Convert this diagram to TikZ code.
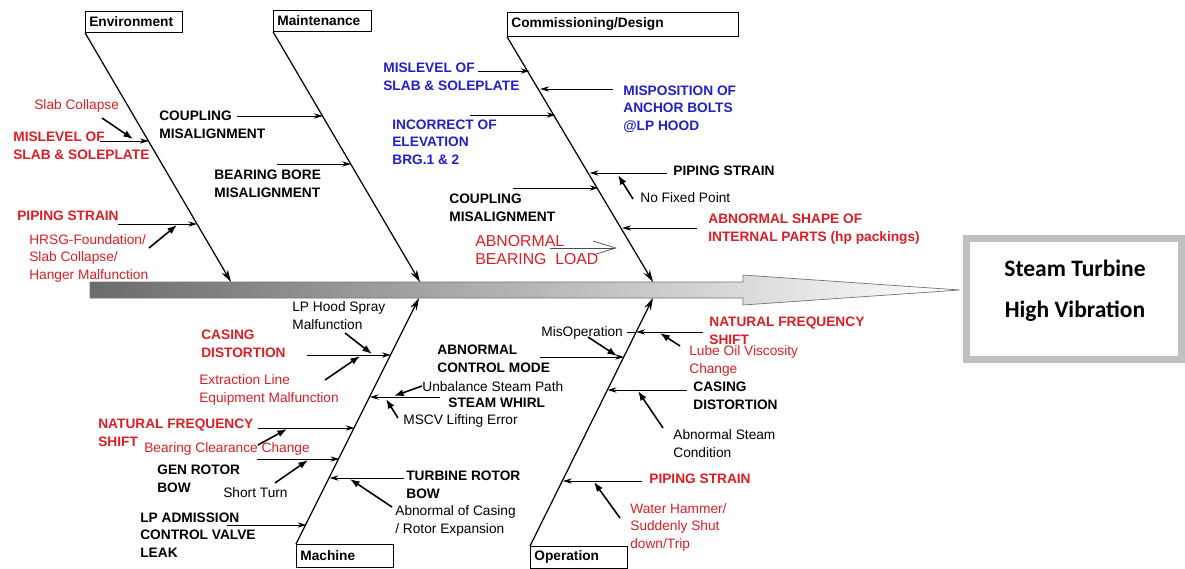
\documentclass[tikz,border=0pt]{standalone}
\usepackage{fontspec}
\setmainfont{Liberation Sans}
\newfontfamily\calibfont{Carlito}
\usetikzlibrary{arrows.meta, positioning}
\usepackage{xcolor}

\definecolor{fbred}{RGB}{220,30,36}
\definecolor{fbblue}{RGB}{32,32,200}
\definecolor{fbgray}{RGB}{192,192,192}
\newcommand{\lblfont}{\fontsize{7.8}{9.7}\selectfont}

\begin{document}
\begin{tikzpicture}[
        x=0.02cm, y=-0.02cm,
        hdr/.style={
          rectangle,
          draw,
          fill=white,
          anchor=north west,
          inner xsep=0.08cm,
          inner ysep=0pt,
          align=left,
          font=\lblfont\bfseries
        },
        cause/.style={
          anchor=base west,
          inner sep=0pt,
          align=left,
          font=\lblfont\bfseries
        },
        subcause/.style={
          anchor=base west,
          inner sep=0pt,
          align=left,
          font=\lblfont
        },
        bone/.style={
          -{Stealth[length=7pt,width=4pt]},
          line width=0.7pt
        },
        arrow/.style={
          -{Stealth[length=5pt,width=3pt]},
          line width=0.45pt
        },
        subarrow/.style={
          -{Latex[length=5.5pt,width=4pt]},
          line width=0.9pt
        }
      ]

      \useasboundingbox (0,0) rectangle (1185,568);

      % Spine
      \draw[black!55, line width=0.4pt, left color=black!58, right color=white]
        (90,282) -- (743,282) -- (743,275) -- (960,290) -- (743,305) -- (743,298) -- (90,298) -- cycle;

      % Effect (multi-line nodes sit on their last baseline)
      \node[draw=fbgray, line width=4pt, minimum width=4.3cm, minimum height=2.42cm] (effect) at (1074,299) {};
      \node[anchor=base, align=center, font={\calibfont\bfseries\fontsize{13.4}{23.3}\selectfont}] (effecttxt) at (1075,317) {Steam Turbine\\High Vibration};

      % Categories
      \node[hdr, text width=1.78cm, minimum height=0.42cm] (env) at (85,11) {Environment};
      \node[hdr, text width=1.8cm, minimum height=0.42cm] (mnt) at (273,10) {Maintenance};
      \node[hdr, text width=4.46cm, minimum height=0.48cm] (com) at (507,12) {Commissioning/Design};
      \node[hdr, text width=1.78cm, minimum height=0.46cm] (mac) at (296,544) {Machine};
      \node[hdr, text width=1.78cm, minimum height=0.44cm] (ops) at (530,546) {Operation};

      % Bones
      \coordinate (envend) at (231,282);
      \coordinate (mntend) at (420,282);
      \coordinate (comend) at (653,282);
      \coordinate (macend) at (419,298);
      \coordinate (opsend) at (653,298);
      \draw[bone] (env.south west) -- (envend);
      \draw[bone] (mnt.south west) -- (mntend);
      \draw[bone] (com.south west) -- (comend);
      \draw[bone] (mac.north west) -- (macend);
      \draw[bone] (ops.north west) -- (opsend);

      % Environment
      \node[subcause, text=fbred] (slab) at (34,109) {Slab Collapse};
      \node[cause, text=fbred] (envlvl) at (13,159) {MISLEVEL OF\\SLAB \& SOLEPLATE};
      \node[cause, text=fbred] (envpipe) at (17,220) {PIPING STRAIN};
      \node[subcause, text=fbred] (hrsg) at (29,279) {HRSG-Foundation/\\Slab Collapse/\\Hanger Malfunction};
      \coordinate (e1t) at (100,141);   \coordinate (e1) at (148.7,141);
      \coordinate (e2t) at (118,224);   \coordinate (e2) at (197.1,224);
      \coordinate (slabt) at (102,118); \coordinate (slabh) at (133,139);
      \coordinate (hrsgt) at (149,248); \coordinate (hrsgh) at (177,225);
      \draw[arrow] (e1t) -- (e1);
      \draw[arrow] (e2t) -- (e2);
      \draw[subarrow] (slabt) -- (slabh);
      \draw[subarrow] (hrsgt) -- (hrsgh);

      % Maintenance
      \node[cause] (mntcpl) at (159,138) {COUPLING\\MISALIGNMENT};
      \node[cause] (bore) at (214,197) {BEARING BORE\\MISALIGNMENT};
      \coordinate (m1t) at (237,116);   \coordinate (m1) at (322.8,116);
      \coordinate (m2t) at (277,164);   \coordinate (m2) at (350.9,164);
      \draw[arrow] (m1t) -- (m1);
      \draw[arrow] (m2t) -- (m2);

      % Commissioning/Design
      \node[cause, text=fbblue] (comlvl) at (383,90) {MISLEVEL OF\\SLAB \& SOLEPLATE};
      \node[cause, text=fbblue] (bolts) at (623,130) {MISPOSITION OF\\ANCHOR BOLTS\\@LP HOOD};
      \node[cause, text=fbblue] (elev) at (392,164) {INCORRECT OF\\ELEVATION\\BRG.1 \& 2};
      \node[cause] (compipe) at (673,175) {PIPING STRAIN};
      \node[subcause] (nofix) at (640,202) {No Fixed Point};
      \node[cause] (comcpl) at (449,221) {COUPLING\\MISALIGNMENT};
      \node[cause, text=fbred] (shape) at (708,241) {ABNORMAL SHAPE OF\\INTERNAL PARTS (hp packings)};
      \node[anchor=base west, inner sep=0pt, align=left, text=fbred, font=\fontsize{9}{9.7}\selectfont] (bload) at (475,264) {ABNORMAL\\BEARING\ \ LOAD};
      \coordinate (c1t) at (478,71);    \coordinate (c1) at (529.6,71);
      \coordinate (c2t) at (613,89);    \coordinate (c2) at (540.2,89);
      \coordinate (c3t) at (470,115);   \coordinate (c3) at (555.6,115);
      \coordinate (c4t) at (667,173);   \coordinate (c4) at (589.7,173);
      \coordinate (c5t) at (513,188);   \coordinate (c5) at (598.6,188);
      \coordinate (c6t) at (697,228);   \coordinate (c6) at (622.2,228);
      \coordinate (bloadt) at (550,248); \coordinate (bloadh) at (617,248);
      \coordinate (nofixt) at (633,199); \coordinate (nofixh) at (618,175);
      \draw[arrow] (c1t) -- (c1);
      \draw[arrow] (c2t) -- (c2);
      \draw[arrow] (c3t) -- (c3);
      \draw[arrow] (c4t) -- (c4);
      \draw[arrow] (c5t) -- (c5);
      \draw[arrow] (c6t) -- (c6);
      \draw[-{Straight Barb[length=13pt,width=8pt]}, line width=0.4pt, black!70] (bloadt) -- (bloadh);
      \draw[subarrow] (nofixt) -- (nofixh);

      % Machine
      \node[subcause] (hood) at (292,329) {LP Hood Spray\\Malfunction};
      \node[cause, text=fbred] (maccase) at (201,357) {CASING\\DISTORTION};
      \node[subcause, text=fbred] (extr) at (199,402) {Extraction Line\\Equipment Malfunction};
      \node[cause, text=fbred] (macnfs) at (98,446) {NATURAL FREQUENCY\\SHIFT};
      \node[subcause, text=fbred] (brgcl) at (144,452) {Bearing Clearance Change};
      \node[cause] (genbow) at (157,492) {GEN ROTOR\\BOW};
      \node[subcause] (short) at (223,497) {Short Turn};
      \node[cause] (lpadm) at (140,557) {LP ADMISSION\\CONTROL VALVE\\LEAK};
      \node[subcause] (unbal) at (422,391) {Unbalance Steam Path};
      \node[cause] (whirl) at (448,407) {STEAM WHIRL};
      \node[subcause] (mscv) at (403,424) {MSCV Lifting Error};
      \node[cause] (turbow) at (406,498) {TURBINE ROTOR\\BOW};
      \node[subcause] (expan) at (395,533) {Abnormal of Casing\\/ Rotor Expansion};
      \coordinate (k1t) at (307,355);   \coordinate (k1) at (390.7,355);
      \coordinate (k2t) at (440,397);   \coordinate (k2) at (369.9,397);
      \coordinate (k3t) at (258,428);   \coordinate (k3) at (354.5,428);
      \coordinate (k4t) at (257,459);   \coordinate (k4) at (339.2,459);
      \coordinate (k5t) at (404,478);   \coordinate (k5) at (329.7,478);
      \coordinate (k6t) at (227,525);   \coordinate (k6) at (306.4,525);
      \coordinate (hoodt) at (345,333);  \coordinate (hoodh) at (372,354);
      \coordinate (extrt) at (325,380);  \coordinate (extrh) at (360,356);
      \coordinate (unbalt) at (422,386); \coordinate (unbalh) at (394,396);
      \coordinate (mscvt) at (398,418);  \coordinate (mscvh) at (386,399);
      \coordinate (brgclt) at (258,445); \coordinate (brgclh) at (287,429);
      \coordinate (shortt) at (275,483); \coordinate (shorth) at (308,460);
      \coordinate (expant) at (392,507); \coordinate (expanh) at (350,479);
      \draw[arrow] (k1t) -- (k1);
      \draw[arrow] (k2t) -- (k2);
      \draw[arrow] (k3t) -- (k3);
      \draw[arrow] (k4t) -- (k4);
      \draw[arrow] (k5t) -- (k5);
      \draw[arrow] (k6t) -- (k6);
      \draw[subarrow] (hoodt) -- (hoodh);
      \draw[subarrow] (extrt) -- (extrh);
      \draw[subarrow] (unbalt) -- (unbalh);
      \draw[subarrow] (mscvt) -- (mscvh);
      \draw[subarrow] (brgclt) -- (brgclh);
      \draw[subarrow] (shortt) -- (shorth);
      \draw[subarrow] (expant) -- (expanh);

      % Operation
      \node[subcause] (misop) at (541,336) {MisOperation};
      \node[cause] (acm) at (437,372) {ABNORMAL\\CONTROL MODE};
      \node[cause, text=fbred] (opsnfs) at (709,344) {NATURAL FREQUENCY\\SHIFT};
      \node[subcause, text=fbred] (lube) at (689,373) {Lube Oil Viscosity\\Change};
      \node[cause] (opscase) at (693,409) {CASING\\DISTORTION};
      \node[subcause] (steamc) at (673,457) {Abnormal Steam\\Condition};
      \node[cause, text=fbred] (opspipe) at (649,483) {PIPING STRAIN};
      \node[subcause, text=fbred] (hammer) at (630,548) {Water Hammer/\\Suddenly Shut\\down/Trip};
      \coordinate (o1t) at (703,332);   \coordinate (o1) at (636.3,332);
      \coordinate (o1s) at (627,332);
      \coordinate (o2t) at (540,357);   \coordinate (o2) at (624.0,357);
      \coordinate (o3t) at (687,390);   \coordinate (o3) at (607.7,390);
      \coordinate (o4t) at (642,481);   \coordinate (o4) at (563.0,481);
      \coordinate (lubet) at (680,346);  \coordinate (lubeh) at (660,333);
      \coordinate (misopt) at (588,337); \coordinate (misoph) at (617,356);
      \coordinate (steamt) at (663,428); \coordinate (steamh) at (638,391);
      \coordinate (hammert) at (620,518); \coordinate (hammerh) at (594,482);
      \draw[arrow] (o1t) -- (o1);
      \draw[line width=0.45pt] (o1s) -- (o1);
      \draw[arrow] (o2t) -- (o2);
      \draw[arrow] (o3t) -- (o3);
      \draw[arrow] (o4t) -- (o4);
      \draw[subarrow] (lubet) -- (lubeh);
      \draw[subarrow] (misopt) -- (misoph);
      \draw[subarrow] (steamt) -- (steamh);
      \draw[subarrow] (hammert) -- (hammerh);

\end{tikzpicture}
\end{document}
